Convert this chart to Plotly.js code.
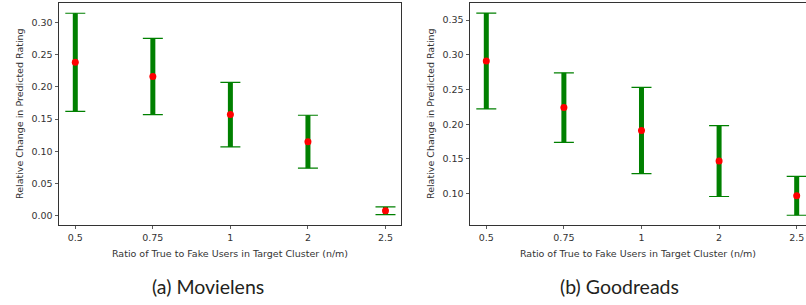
<!DOCTYPE html>
<html>
<head>
<meta charset="utf-8">
<script src="https://cdn.plot.ly/plotly-3.0.1.min.js"></script>
<style>html,body{margin:0;padding:0;background:#fff;}#chart{width:806px;height:305px;}</style>
</head>
<body>
<div id="chart"></div>
<script>
// Tick labels / categories
const ratios = ["0.5", "0.75", "1", "2", "2.5"];

// Movielens: mean relative change and error half-width
const movielensMean = [0.238, 0.216, 0.157, 0.115, 0.008];
const movielensErr  = [0.076, 0.059, 0.050, 0.041, 0.006];

// Goodreads: mean relative change and error half-width
const goodreadsMean = [0.291, 0.224, 0.191, 0.147, 0.097];
const goodreadsErr  = [0.069, 0.050, 0.062, 0.051, 0.028];

const captions = ["(a) Movielens", "(b) Goodreads"];
const xTitle = "Ratio of True to Fake Users in Target Cluster (n/m)";
const yTitle = "Relative Change in Predicted Rating";

const GREEN = "#008000";
const RED = "#ff0000";

function panel(mean, err, xa, ya) {
  return [
    { // caps (thin)
      type: "scatter", mode: "markers", x: ratios, y: mean, xaxis: xa, yaxis: ya,
      marker: {size: 1, opacity: 0},
      error_y: {type: "data", array: err, visible: true, color: GREEN, thickness: 1.2, width: 10},
      showlegend: false, hoverinfo: "skip"
    },
    { // thick bars + red points
      type: "scatter", mode: "markers", x: ratios, y: mean, xaxis: xa, yaxis: ya,
      marker: {size: 7, color: RED},
      error_y: {type: "data", array: err, visible: true, color: GREEN, thickness: 5, width: 0},
      showlegend: false
    }
  ];
}

const data = panel(movielensMean, movielensErr, "x", "y")
  .concat(panel(goodreadsMean, goodreadsErr, "x2", "y2"));

const W = 806, H = 305;
const tickFont = {family: "DejaVu Sans", size: 9.5, color: "#333"};
const titleFont = {family: "DejaVu Sans", size: 9.5, color: "#333"};
const yDom = [1 - 224.7 / H, 1 - 2.7 / H];

function xAxis(domain, range) {
  return {
    type: "category", domain: domain, range: range,
    showgrid: false, zeroline: false,
    showline: true, linecolor: "#333", linewidth: 1, mirror: true,
    ticks: "outside", ticklen: 3.5, tickcolor: "#333", tickwidth: 0.8,
    tickfont: tickFont,
    title: {text: xTitle, font: titleFont, standoff: 8}
  };
}
function yAxis(anchor, range, mirror, dtick) {
  return {
    anchor: anchor, domain: yDom, range: range,
    showgrid: false, zeroline: false,
    showline: true, linecolor: "#333", linewidth: 1, mirror: mirror,
    ticks: "outside", ticklen: 3.5, tickcolor: "#333", tickwidth: 0.8,
    tickfont: tickFont, tickformat: ".2f", dtick: dtick, tick0: 0,
    title: {text: yTitle, font: titleFont, standoff: 6}
  };
}

const layout = {
  width: W, height: H,
  margin: {l: 0, r: 0, t: 0, b: 0},
  paper_bgcolor: "#fff", plot_bgcolor: "#fff",
  showlegend: false,
  xaxis: Object.assign(xAxis([59 / W, 401 / W], [-0.21, 4.2]), {anchor: "y"}),
  yaxis: yAxis("x", [-0.0135, 0.3303], true, 0.05),
  xaxis2: Object.assign(xAxis([470 / W, 1], [-0.21, 4.12]), {anchor: "y2"}),
  yaxis2: yAxis("x2", [0.0554, 0.3749], false, 0.05),
  annotations: [
    {text: captions[0], xref: "paper", yref: "paper", x: 207.5 / W, y: 1 - 286.5 / H,
     xanchor: "center", yanchor: "middle", showarrow: false,
     font: {family: "Lato", size: 19.5, color: "#231f20"}},
    {text: captions[1], xref: "paper", yref: "paper", x: 619 / W, y: 1 - 286.5 / H,
     xanchor: "center", yanchor: "middle", showarrow: false,
     font: {family: "Lato", size: 19.5, color: "#231f20"}}
  ]
};

Plotly.newPlot("chart", data, layout, {staticPlot: true, displayModeBar: false});
</script>
</body>
</html>
